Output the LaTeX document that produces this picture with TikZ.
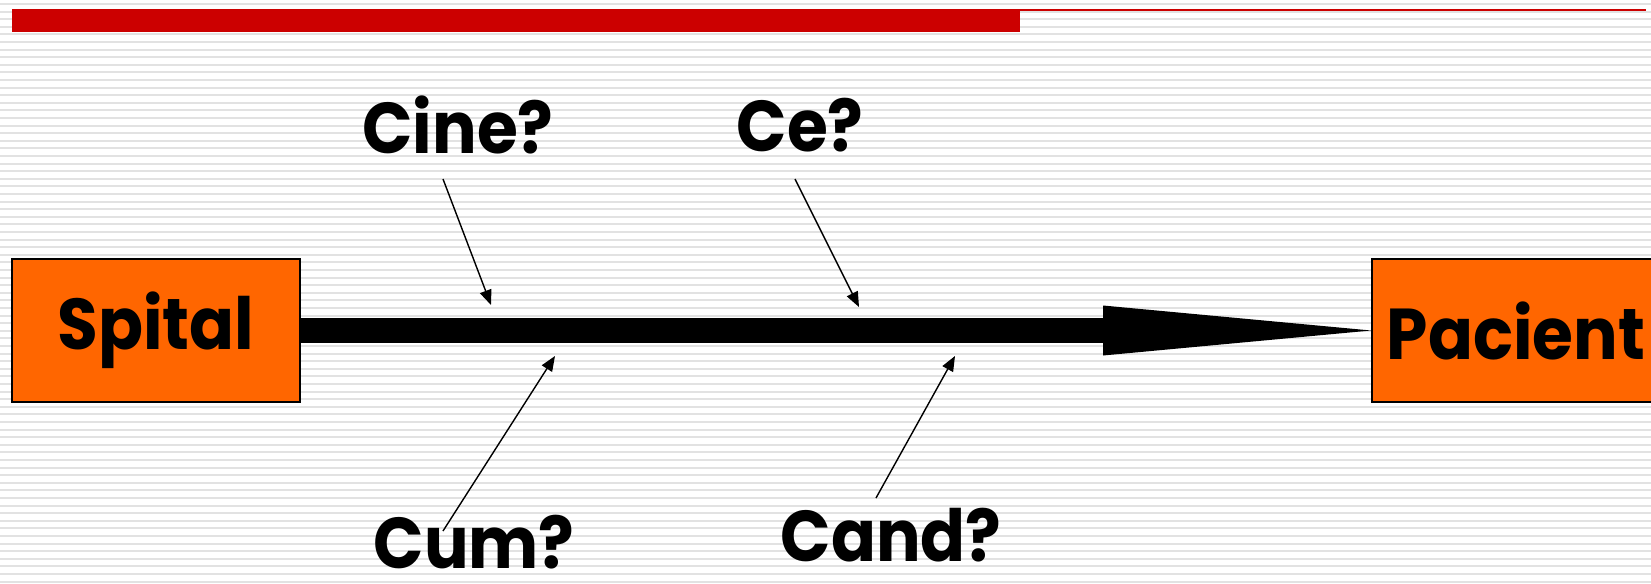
\documentclass[tikz,border=0pt]{standalone}
\usepackage{fontspec}
\setmainfont{Poppins}[FakeStretch=0.92]
\usetikzlibrary{arrows.meta}
\definecolor{boxorange}{RGB}{255,102,0}
\definecolor{barred}{RGB}{204,0,0}
\definecolor{stripegray}{RGB}{226,226,226}
\begin{document}
\begin{tikzpicture}[x=0.5pt,y=-0.5pt,
  labeltext/.style={font=\fontsize{36}{38}\selectfont\bfseries, inner sep=0pt},
  box/.style={draw=black, line width=1pt, fill=boxorange, minimum width=144pt, minimum height=71.5pt, inner sep=0pt, labeltext},
  pointer/.style={line width=0.7pt, -{Triangle[length=7.5pt,width=6pt]}},
  stripe/.style={draw=stripegray, line width=1pt}
]
\useasboundingbox (0,0) rectangle (1651,584);
\clip (0,0) rectangle (1651,584);
\fill[white] (0,0) rectangle (1651,584);
\foreach \i in {0,...,76} \draw[stripe] (0,4+\i*7.6) -- (1651,4+\i*7.6);
% top bar
\fill[barred] (12,9) rectangle (1020,32);
\draw[barred, line width=1pt] (1020,10) -- (1646,10);
% boxes
\node[box] (spital) at (156,330.5) {Spital};
\node[box] (pacient) at (1516,330.5) {Pacient};
% main arrow
\coordinate (headbase) at (1103,330.5);
\coordinate (headtop) at (1103,305.5);
\coordinate (headbot) at (1103,355.5);
\draw[line width=12.5pt] (spital.east) -- (headbase);
\fill (headtop) -- (pacient.west) -- (headbot) -- cycle;
% labels
\node[labeltext] (cine) at (458,125) {Cine?};
\node[labeltext] (ce) at (800,125) {Ce?};
\node[labeltext] (cum) at (474,542) {Cum?};
\node[labeltext] (cand) at (891,535) {Cand?};
% pointers
\coordinate (cineS) at (443,179); \coordinate (cineT) at (491,305);
\coordinate (ceS) at (795,179);   \coordinate (ceT) at (859,307);
\coordinate (cumS) at (443,531);  \coordinate (cumT) at (555,356);
\coordinate (candS) at (876,498); \coordinate (candT) at (955,356);
\draw[pointer] (cineS) -- (cineT);
\draw[pointer] (ceS) -- (ceT);
\draw[pointer] (cumS) -- (cumT);
\draw[pointer] (candS) -- (candT);
\end{tikzpicture}
\end{document}
